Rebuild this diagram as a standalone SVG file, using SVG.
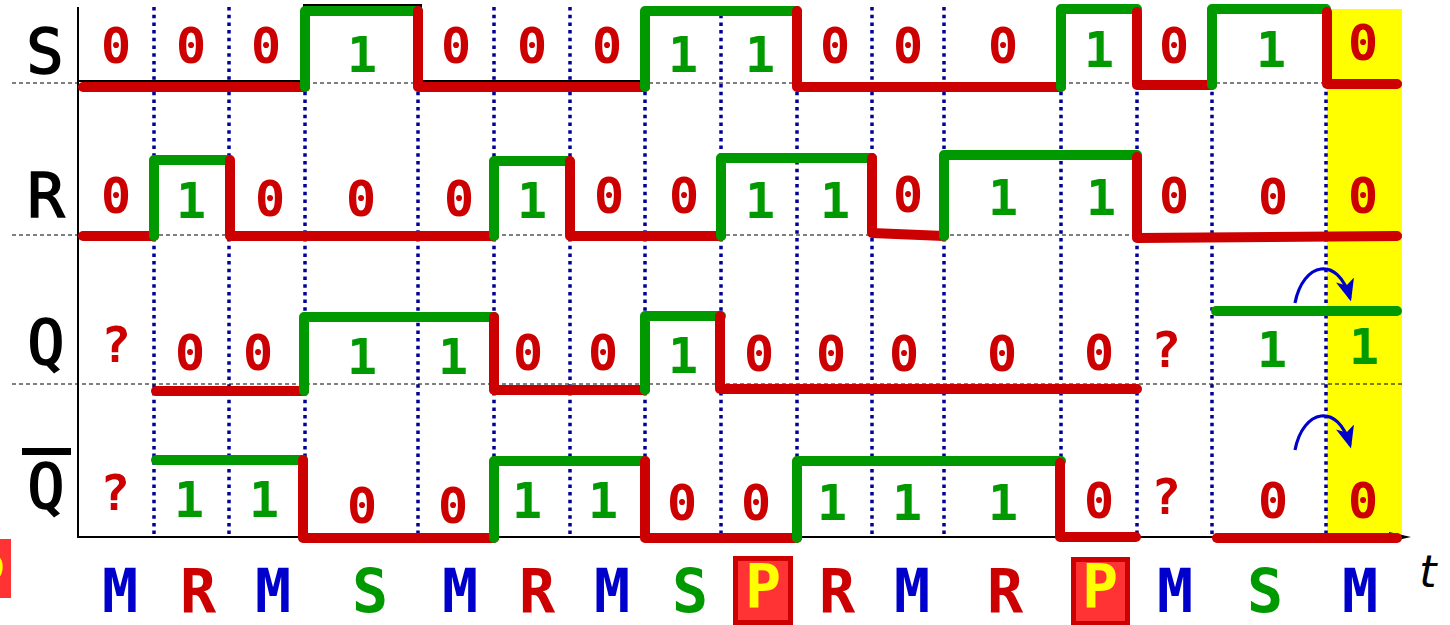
<svg xmlns="http://www.w3.org/2000/svg" width="1450" height="625" viewBox="0 0 1450 625">
<style>
.bg{fill:#ffffff}
.dot{stroke:#000099;stroke-width:3.5;stroke-dasharray:3.5 4.2;fill:none}
.dash{stroke:#000000;stroke-width:1;stroke-dasharray:4 3;fill:none}
.axis{stroke:#000000;stroke-width:2;fill:none}
.lo{stroke:#cc0000;stroke-width:10;fill:none;stroke-linecap:round;stroke-linejoin:round}
.hi{stroke:#009900;stroke-width:10;fill:none;stroke-linecap:round;stroke-linejoin:round}
.sig{font-family:"DejaVu Sans Mono","Liberation Mono",monospace;font-weight:bold;font-size:50px;text-anchor:middle}
.z{fill:#cc0000}
.o{fill:#009900}
.name{font-family:"DejaVu Sans Mono","DejaVu Sans",sans-serif;font-size:62px;fill:#000000;stroke:#000000;stroke-width:1.6;text-anchor:middle}
.op{font-family:"DejaVu Sans Mono","Liberation Mono",monospace;font-weight:bold;font-size:60px;text-anchor:middle}
.m{fill:#0000cc}
.r{fill:#cc0000}
.s{fill:#009900}
.p{fill:#ffff00}
.pbox{fill:#ff3333;stroke:#cc0000;stroke-width:5}
.curve{stroke:#0000cc;stroke-width:3.2;fill:none;marker-end:url(#ah)}
</style>
<defs>
<marker id="ah" viewBox="0 0 12 10" refX="10" refY="5" markerWidth="7" markerHeight="6" orient="auto" markerUnits="strokeWidth">
<path d="M0,0 L12,5 L0,10 L3,5 z" fill="#0000cc"/>
</marker>
</defs>
<rect class="bg" x="0" y="0" width="1450" height="625"/>
<rect id="highlight" x="1327" y="9" width="75" height="528" fill="#ffff00"/>
<g id="grid">
<path class="dot" d="M154,7V535M229,7V535M305,7V535M418,7V535M494,7V535M570,7V535M645,7V535M721,7V535M797,7V535M872,7V535M944,7V535M1061,7V535M1137,7V535M1212,7V535M1326,7V535"/>
<path class="dash" d="M12,83H1402M12,235H1402M12,384H1402"/>
<path class="axis" d="M78,7V537H1392"/>
<polygon points="1389,532 1411,537 1389,542" fill="#000000"/>
</g>
<g id="connectors">
<path d="M78,81H304V5H421V81H644" stroke="#000000" stroke-width="2" fill="none"/>
<path class="lo" d="M83,87H305"/>
<path class="hi" d="M305,87V11H418"/>
<path class="lo" d="M418,11V87H645"/>
<path class="hi" d="M645,87V11H797"/>
<path class="lo" d="M797,11V87H1061"/>
<path class="hi" d="M1061,87V9H1137"/>
<path class="lo" d="M1137,12V85H1212"/>
<path class="hi" d="M1212,85V9H1326"/>
<path class="lo" d="M1327,12V84H1397"/>
<path class="lo" d="M83,236H154"/>
<path class="hi" d="M154,236V160H229"/>
<path class="lo" d="M230,160V236H494"/>
<path class="hi" d="M494,236V161H569"/>
<path class="lo" d="M570,161V236H721"/>
<path class="hi" d="M721,236V158H872"/>
<path class="lo" d="M872,158V233L944,236"/>
<path class="hi" d="M944,236V155H1137"/>
<path class="lo" d="M1137,157V238L1397,236"/>
<path class="lo" d="M156,391H304"/>
<path class="hi" d="M304,391V317H494"/>
<path class="lo" d="M494,317V390H645"/>
<path class="hi" d="M645,390V316H721"/>
<path class="lo" d="M720,316V389H1137"/>
<path class="hi" d="M1216,311H1397"/>
<path class="hi" d="M156,460H303"/>
<path class="lo" d="M303,460V538H494"/>
<path class="hi" d="M494,538V461H645"/>
<path class="lo" d="M645,461V538H797"/>
<path class="hi" d="M797,538V461H1061"/>
<path class="lo" d="M1060,463V537H1136"/>
<path class="lo" d="M1217,538H1397"/>
<path class="curve" d="M1295,303C1303,262 1338,255 1350,298"/>
<path class="curve" d="M1295,450C1303,409 1338,402 1350,445"/>
</g>
<g id="label-S"><text class="name" x="45" y="73">S</text></g>
<g id="label-R"><text class="name" x="46" y="217">R</text></g>
<g id="label-Q"><text class="name" x="46" y="364">Q</text></g>
<g id="label-Qbar"><rect x="22" y="448" width="49" height="7" fill="#000000"/><text class="name" x="46" y="508">Q</text></g>
<g id="row-S" class="sig">
<text class="z" x="116" y="63">0</text>
<text class="z" x="191" y="63">0</text>
<text class="z" x="266" y="63">0</text>
<text class="o" x="362" y="72">1</text>
<text class="z" x="456" y="63">0</text>
<text class="z" x="532" y="63">0</text>
<text class="z" x="607" y="63">0</text>
<text class="o" x="683" y="72">1</text>
<text class="o" x="760" y="72">1</text>
<text class="z" x="835" y="63">0</text>
<text class="z" x="908" y="63">0</text>
<text class="z" x="1003" y="63">0</text>
<text class="o" x="1099" y="67">1</text>
<text class="z" x="1174" y="63">0</text>
<text class="o" x="1271" y="67">1</text>
<text class="z" x="1363" y="60">0</text>
</g>
<g id="row-R" class="sig">
<text class="z" x="116" y="213">0</text>
<text class="o" x="191" y="218">1</text>
<text class="z" x="270" y="216">0</text>
<text class="z" x="361" y="216">0</text>
<text class="z" x="459" y="216">0</text>
<text class="o" x="532" y="218">1</text>
<text class="z" x="609" y="213">0</text>
<text class="z" x="684" y="213">0</text>
<text class="o" x="760" y="218">1</text>
<text class="o" x="835" y="218">1</text>
<text class="z" x="908" y="212">0</text>
<text class="o" x="1003" y="215">1</text>
<text class="o" x="1101" y="215">1</text>
<text class="z" x="1174" y="213">0</text>
<text class="z" x="1273" y="214">0</text>
<text class="z" x="1363" y="213">0</text>
</g>
<g id="row-Q" class="sig">
<text class="z" x="116" y="362">?</text>
<text class="z" x="190" y="370">0</text>
<text class="z" x="258" y="370">0</text>
<text class="o" x="362" y="374">1</text>
<text class="o" x="453" y="374">1</text>
<text class="z" x="528" y="370">0</text>
<text class="z" x="603" y="370">0</text>
<text class="o" x="683" y="373">1</text>
<text class="z" x="759" y="371">0</text>
<text class="z" x="831" y="371">0</text>
<text class="z" x="904" y="371">0</text>
<text class="z" x="1002" y="371">0</text>
<text class="z" x="1099" y="370">0</text>
<text class="z" x="1166" y="367">?</text>
<text class="o" x="1272" y="367">1</text>
<text class="o" x="1364" y="364">1</text>
</g>
<g id="row-Qbar" class="sig">
<text class="z" x="115" y="510">?</text>
<text class="o" x="189" y="517">1</text>
<text class="o" x="264" y="517">1</text>
<text class="z" x="362" y="523">0</text>
<text class="z" x="453" y="523">0</text>
<text class="o" x="527" y="518">1</text>
<text class="o" x="603" y="518">1</text>
<text class="z" x="682" y="520">0</text>
<text class="z" x="756" y="520">0</text>
<text class="o" x="832" y="520">1</text>
<text class="o" x="907" y="520">1</text>
<text class="o" x="1003" y="520">1</text>
<text class="z" x="1099" y="518">0</text>
<text class="z" x="1166" y="514">?</text>
<text class="z" x="1273" y="518">0</text>
<text class="z" x="1363" y="518">0</text>
</g>
<g id="ops" class="op">
<g id="op-left"><rect x="-50" y="539" width="61" height="59" fill="#ff3333"/><text class="p" x="-13" y="598">P</text></g>
<text class="m" x="120" y="612">M</text>
<text class="r" x="198" y="612">R</text>
<text class="m" x="273" y="612">M</text>
<text class="s" x="370" y="612">S</text>
<text class="m" x="460" y="612">M</text>
<text class="r" x="537" y="612">R</text>
<text class="m" x="612" y="612">M</text>
<text class="s" x="690" y="612">S</text>
<g id="op-P1"><rect class="pbox" x="735.5" y="558.5" width="55" height="64"/><text class="p" x="763" y="608">P</text></g>
<text class="r" x="837" y="612">R</text>
<text class="m" x="912" y="612">M</text>
<text class="r" x="1005" y="612">R</text>
<g id="op-P2"><rect class="pbox" x="1073.5" y="559.5" width="54" height="64"/><text class="p" x="1100" y="608">P</text></g>
<text class="m" x="1175" y="612">M</text>
<text class="s" x="1265" y="612">S</text>
<text class="m" x="1360" y="612">M</text>
</g>
<g id="label-t"><text x="1428" y="587" font-family="DejaVu Sans, sans-serif" font-style="italic" font-size="44" text-anchor="middle" fill="#000000">t</text></g>
</svg>
